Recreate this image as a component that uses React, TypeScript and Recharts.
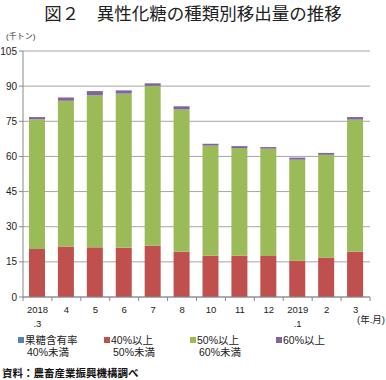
import React from 'react';
import { BarChart, Bar, XAxis, YAxis, CartesianGrid } from 'recharts';

const categories = ['2018\n.3', '4', '5', '6', '7', '8', '10', '11', '12', '2019\n.1', '2', '3'];
const under40 = [0, 0, 0, 0, 0, 0, 0, 0, 0, 0, 0, 0];
const from40to50 = [20.5, 21.6, 21.2, 21.0, 21.9, 19.3, 17.6, 17.6, 17.5, 15.5, 16.8, 19.3];
const from50to60 = [55.3, 62.2, 64.9, 65.8, 68.2, 60.8, 47.0, 46.0, 45.8, 43.1, 43.9, 56.4];
const over60 = [1.0, 1.4, 1.8, 1.4, 1.1, 1.3, 0.8, 0.8, 0.7, 0.9, 0.8, 1.1];
const yTicks = [0, 15, 30, 45, 60, 75, 90, 105];

const seriesNames = ['果糖含有率\n40%未満', '40%以上\n50%未満', '50%以上\n60%未満', '60%以上'];
const seriesColors = ['#4F81BD', '#C0504D', '#9BBB59', '#8064A2'];

const data = categories.map((c, i) => ({
  cat: c,
  s0: under40[i],
  s1: from40to50[i],
  s2: from50to60[i],
  s3: over60[i],
}));

const FONT = '"Liberation Sans", Arial, "Noto Sans CJK JP", sans-serif';
const HALF_BAND = 347 / categories.length / 2;

const CatTick = (props: any) => {
  const { x, y, payload, index } = props;
  const lines = String(payload.value).split('\n');
  return (
    <g>
      <line x1={x - HALF_BAND} x2={x - HALF_BAND} y1={y} y2={y + 4} stroke="#888" />
      {index === categories.length - 1 && (
        <line x1={x + HALF_BAND} x2={x + HALF_BAND} y1={y} y2={y + 4} stroke="#888" />
      )}
      {lines.map((l, i) => (
        <text
          key={i}
          x={x}
          y={y + 12 + i * 14}
          textAnchor="middle"
          dominantBaseline="central"
          fontSize={9.5}
          fill="#222"
          fontFamily={FONT}
        >
          {l}
        </text>
      ))}
    </g>
  );
};

export default function App() {
  return (
    <div style={{ position: 'absolute', left: 0, top: 0, width: 386, height: 380, background: '#fff', fontFamily: FONT }}>
      <div
        style={{
          position: 'absolute', top: 2, left: 0, width: 386, textAlign: 'center',
          fontSize: 17.5, lineHeight: '22px', color: '#222', fontFamily: '"Noto Sans CJK JP", sans-serif',
        }}
      >
        図２　異性化糖の種類別移出量の推移
      </div>
      <div style={{ position: 'absolute', top: 32, left: 6, fontSize: 8, lineHeight: '10px', color: '#333' }}>
        (千トン)
      </div>
      <BarChart
        width={386}
        height={340}
        data={data}
        margin={{ top: 51, right: 16, left: 0, bottom: 13 }}
        barSize={16}
        style={{ position: 'absolute', left: 0, top: 0 }}
      >
        <CartesianGrid vertical={false} stroke="#a6a6a6" />
        <XAxis
          dataKey="cat"
          height={30}
          interval={0}
          tickLine={false}
          tickSize={0}
          tickMargin={0}
          axisLine={{ stroke: '#888' }}
          tick={<CatTick />}
        />
        <YAxis
          width={23}
          domain={[0, 105]}
          ticks={yTicks}
          interval={0}
          tickSize={4}
          tickMargin={2}
          tickLine={{ stroke: '#888' }}
          axisLine={{ stroke: '#888' }}
          tick={{ fontSize: 10, fill: '#222', fontFamily: FONT }}
        />
        {['s0', 's1', 's2', 's3'].map((k, i) => (
          <Bar key={k} dataKey={k} stackId="a" fill={seriesColors[i]} isAnimationActive={false} />
        ))}
      </BarChart>
      <div style={{ position: 'absolute', top: 314, left: 357, fontSize: 9.5, lineHeight: '11px', color: '#222' }}>
        (年.月)
      </div>
      {seriesNames.map((n, i) => {
        const [a, b] = n.split('\n');
        return (
          <div key={n} style={{ position: 'absolute', top: 334, left: 18 + i * 86, fontSize: 10.5, lineHeight: '12px', color: '#222' }}>
            <div style={{ display: 'flex', alignItems: 'center' }}>
              <span style={{ display: 'inline-block', width: 6, height: 6, background: seriesColors[i], marginRight: 1 }} />
              {a}
            </div>
            {b && <div style={{ paddingLeft: 9 }}>{b}</div>}
          </div>
        );
      })}
      <div
        style={{
          position: 'absolute', top: 366, left: 2, fontSize: 10.5, lineHeight: '14px', fontWeight: 'bold', color: '#111',
          fontFamily: '"Noto Sans CJK JP", sans-serif',
        }}
      >
        資料：農畜産業振興機構調べ
      </div>
    </div>
  );
}
